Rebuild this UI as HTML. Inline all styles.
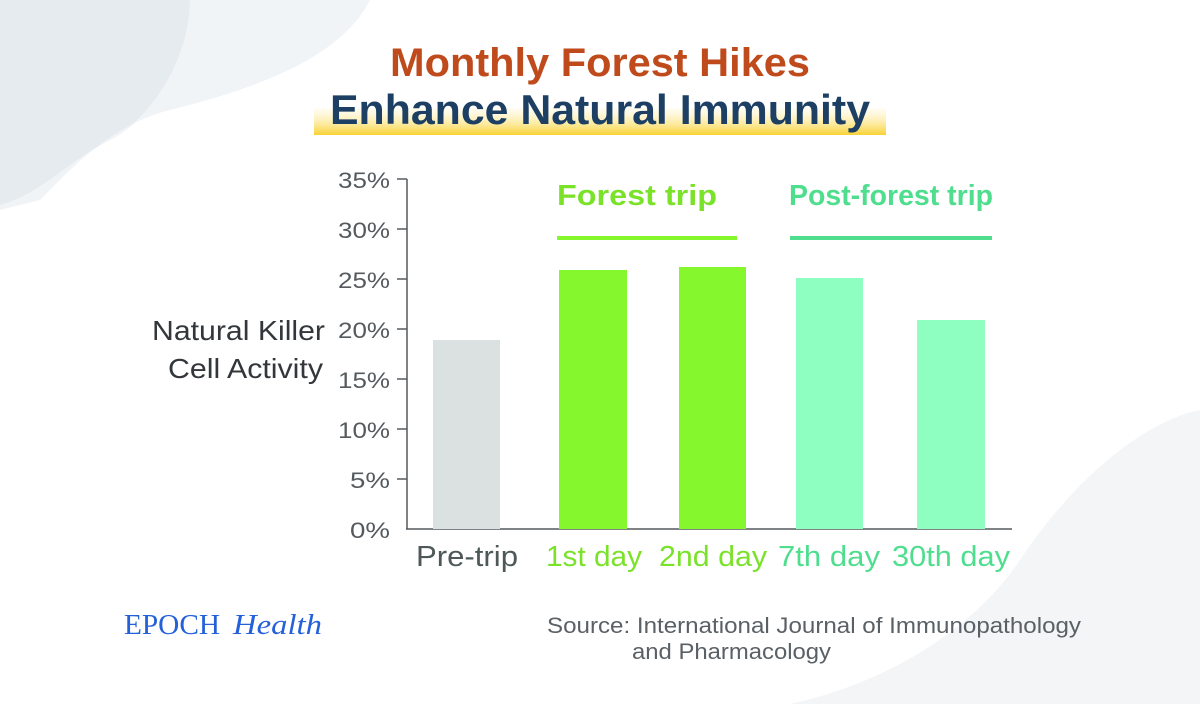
<!DOCTYPE html>
<html><head><meta charset="utf-8"><style>
html,body{margin:0;padding:0;background:#fff;}
svg{display:block;}
text{font-family:"Liberation Sans",sans-serif;}
</style></head><body>
<svg width="1200" height="704" viewBox="0 0 1200 704" xmlns="http://www.w3.org/2000/svg">
<defs>
<linearGradient id="yg" x1="0" y1="0" x2="0" y2="1">
<stop offset="0" stop-color="#fff8d8" stop-opacity="0.3"/>
<stop offset="1" stop-color="#f9d232"/>
</linearGradient>
</defs>
<rect width="1200" height="704" fill="#fff"/>
<path d="M0,0 L190,0 C190,60 150,120 110,140 C70,160 40,195 0,205 Z" fill="#e6ebf0"/>
<path d="M190,0 L370,0 C340,60 250,90 170,110 C110,125 70,170 40,200 L0,210 L0,205 C40,195 70,160 110,140 C150,120 190,60 190,0 Z" fill="#f1f4f7"/>
<path d="M1200,410 C1150,420 1080,470 1020,560 C980,620 900,680 790,704 L1200,704 Z" fill="#f3f5f7"/>
<rect x="314" y="108" width="572" height="27" fill="url(#yg)"/>
<text x="600" y="76" text-anchor="middle" font-size="40" font-weight="bold" fill="#bf4a1c" textLength="420" lengthAdjust="spacingAndGlyphs">Monthly Forest Hikes</text>
<text x="600" y="124" text-anchor="middle" font-size="42" font-weight="bold" fill="#1c3f63" textLength="540" lengthAdjust="spacingAndGlyphs">Enhance Natural Immunity</text>
<g fill="#555a5e" font-size="22" text-anchor="end">
<text x="390" y="188" textLength="52" lengthAdjust="spacingAndGlyphs">35%</text>
<text x="390" y="238" textLength="52" lengthAdjust="spacingAndGlyphs">30%</text>
<text x="390" y="288" textLength="52" lengthAdjust="spacingAndGlyphs">25%</text>
<text x="390" y="338" textLength="52" lengthAdjust="spacingAndGlyphs">20%</text>
<text x="390" y="388" textLength="52" lengthAdjust="spacingAndGlyphs">15%</text>
<text x="390" y="438" textLength="52" lengthAdjust="spacingAndGlyphs">10%</text>
<text x="390" y="488" textLength="40" lengthAdjust="spacingAndGlyphs">5%</text>
<text x="390" y="538" textLength="40" lengthAdjust="spacingAndGlyphs">0%</text>
</g>
<g stroke="#555a5e" stroke-width="1.5">
<line x1="407" y1="179" x2="407" y2="529"/>
<line x1="406" y1="529" x2="1012" y2="529"/>
<line x1="397" y1="179" x2="407" y2="179"/>
<line x1="397" y1="229" x2="407" y2="229"/>
<line x1="397" y1="279" x2="407" y2="279"/>
<line x1="397" y1="329" x2="407" y2="329"/>
<line x1="397" y1="379" x2="407" y2="379"/>
<line x1="397" y1="429" x2="407" y2="429"/>
<line x1="397" y1="479" x2="407" y2="479"/>
</g>
<rect x="433" y="340" width="67" height="189" fill="#dbe0e0"/>
<rect x="559" y="270" width="68" height="259" fill="#84f82c"/>
<rect x="679" y="267" width="67" height="262" fill="#84f82c"/>
<rect x="796" y="278" width="67" height="251" fill="#8effc1"/>
<rect x="917" y="320" width="68" height="209" fill="#8effc1"/>
<text x="637" y="205" text-anchor="middle" font-size="29" font-weight="bold" fill="#7be22a" textLength="160" lengthAdjust="spacingAndGlyphs">Forest trip</text>
<rect x="557" y="236" width="180" height="4" fill="#84f82c"/>
<text x="891" y="205" text-anchor="middle" font-size="29" font-weight="bold" fill="#4ede8e" textLength="204" lengthAdjust="spacingAndGlyphs">Post-forest trip</text>
<rect x="790" y="236" width="202" height="4" fill="#4ede8e"/>
<text x="325" y="340" text-anchor="end" font-size="28" fill="#33363a" textLength="173" lengthAdjust="spacingAndGlyphs">Natural Killer</text>
<text x="323" y="378" text-anchor="end" font-size="28" fill="#33363a" textLength="155" lengthAdjust="spacingAndGlyphs">Cell Activity</text>
<g font-size="29" text-anchor="middle">
<text x="467" y="566" fill="#4e5858" textLength="102" lengthAdjust="spacingAndGlyphs">Pre-trip</text>
<text x="594" y="566" fill="#7be22a" textLength="96" lengthAdjust="spacingAndGlyphs">1st day</text>
<text x="713" y="566" fill="#7be22a" textLength="108" lengthAdjust="spacingAndGlyphs">2nd day</text>
<text x="829" y="566" fill="#4ede8e" textLength="102" lengthAdjust="spacingAndGlyphs">7th day</text>
<text x="951" y="566" fill="#4ede8e" textLength="118" lengthAdjust="spacingAndGlyphs">30th day</text>
</g>
<text x="124" y="634" font-family="Liberation Serif,serif" font-size="28" fill="#2461d8" textLength="96" lengthAdjust="spacingAndGlyphs" style="font-family:'Liberation Serif',serif">EPOCH</text>
<text x="233" y="634" font-size="28" fill="#2461d8" font-style="italic" textLength="89" lengthAdjust="spacingAndGlyphs" style="font-family:'Liberation Serif',serif">Health</text>
<text x="547" y="633" font-size="22" fill="#5a6166" textLength="534" lengthAdjust="spacingAndGlyphs">Source: International Journal of Immunopathology</text>
<text x="632" y="659" font-size="22" fill="#5a6166" textLength="199" lengthAdjust="spacingAndGlyphs">and Pharmacology</text>
</svg>
</body></html>
